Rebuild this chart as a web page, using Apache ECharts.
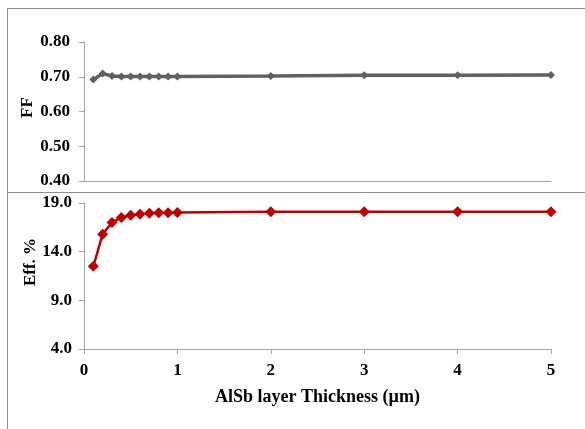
<!DOCTYPE html>
<html><head><meta charset="utf-8">
<script src="https://cdn.jsdelivr.net/npm/echarts@6/dist/echarts.min.js"></script>
<style>html,body{margin:0;padding:0;background:#fff}#c{width:585px;height:429px}</style>
</head><body><div id="c"></div>
<script>
const thickness = [0.1,0.2,0.3,0.4,0.5,0.6,0.7,0.8,0.9,1,2,3,4,5];
const ffValues = [0.692,0.709,0.702,0.701,0.701,0.701,0.701,0.701,0.701,0.701,0.702,0.704,0.704,0.705];
const effValues = [12.5,15.8,17.0,17.5,17.75,17.85,17.95,18.0,18.0,18.02,18.1,18.1,18.1,18.1];
const ffTicks = {min:0.4, max:0.8, interval:0.1};
const effTicks = {min:4, max:19, interval:5};
const xTicks = {min:0, max:5, interval:1};

const font = '"Liberation Serif", "Times New Roman", serif';
const axisGray = '#a6a6a6';
const chart = echarts.init(document.getElementById('c'));
const pair = (xs, ys) => xs.map((x,i)=>[x, ys[i]]);
chart.setOption({
  animation:false,
  grid:[
    {left:84, right:34, top:42, height:139},
    {left:84, right:34, top:203, height:146}
  ],
  xAxis:[
    {gridIndex:0, type:'value', min:xTicks.min, max:xTicks.max, interval:xTicks.interval,
     axisLine:{show:true, lineStyle:{color:axisGray, width:1}}, axisTick:{show:false}, axisLabel:{show:false}, splitLine:{show:false}},
    {gridIndex:1, type:'value', min:xTicks.min, max:xTicks.max, interval:xTicks.interval,
     name:'AlSb layer Thickness (µm)', nameLocation:'middle', nameGap:39,
     nameTextStyle:{fontFamily:font, fontWeight:'bold', fontSize:18, color:'#000'},
     axisLine:{show:true, lineStyle:{color:axisGray, width:1}},
     axisTick:{show:true, length:5, lineStyle:{color:axisGray}},
     axisLabel:{fontFamily:font, fontWeight:'bold', fontSize:17, color:'#000', margin:13},
     splitLine:{show:false}}
  ],
  yAxis:[
    {gridIndex:0, type:'value', min:ffTicks.min, max:ffTicks.max, interval:ffTicks.interval,
     name:'FF', nameLocation:'middle', nameGap:48, nameMoveOverlap:false,
     nameTextStyle:{fontFamily:font, fontWeight:'bold', fontSize:17, color:'#000', padding:[0,0,0,8]},
     axisLine:{show:true, lineStyle:{color:axisGray, width:1}},
     axisTick:{show:true, length:5, lineStyle:{color:axisGray}},
     axisLabel:{fontFamily:font, fontWeight:'bold', fontSize:17, color:'#000', margin:14, formatter:v=>v.toFixed(2)},
     splitLine:{show:false}},
    {gridIndex:1, type:'value', min:effTicks.min, max:effTicks.max, interval:effTicks.interval,
     name:'Eff. %', nameLocation:'middle', nameGap:45, nameMoveOverlap:false,
     nameTextStyle:{fontFamily:font, fontWeight:'bold', fontSize:17, color:'#000', padding:[0,0,0,28]},
     axisLine:{show:true, lineStyle:{color:axisGray, width:1}},
     axisTick:{show:true, length:5, lineStyle:{color:axisGray}},
     axisLabel:{fontFamily:font, fontWeight:'bold', fontSize:17, color:'#000', margin:12, formatter:v=>v.toFixed(1)},
     splitLine:{show:false}}
  ],
  series:[
    {type:'line', xAxisIndex:0, yAxisIndex:0, data:pair(thickness, ffValues),
     symbol:'diamond', symbolSize:8, lineStyle:{color:'#606060', width:3.5},
     itemStyle:{color:'#606060'}},
    {type:'line', xAxisIndex:1, yAxisIndex:1, data:pair(thickness, effValues),
     symbol:'diamond', symbolSize:11, lineStyle:{color:'#c00000', width:2.5},
     itemStyle:{color:'#c00000'}}
  ],
  graphic:[
    {type:'line', shape:{x1:7, y1:8.5, x2:585, y2:8.5}, style:{stroke:'#8c8c8c', lineWidth:1}},
    {type:'line', shape:{x1:7, y1:192.5, x2:585, y2:192.5}, style:{stroke:'#8c8c8c', lineWidth:1}},
    {type:'line', shape:{x1:7.5, y1:8, x2:7.5, y2:429}, style:{stroke:'#8c8c8c', lineWidth:1}}
  ]
});
</script></body></html>
